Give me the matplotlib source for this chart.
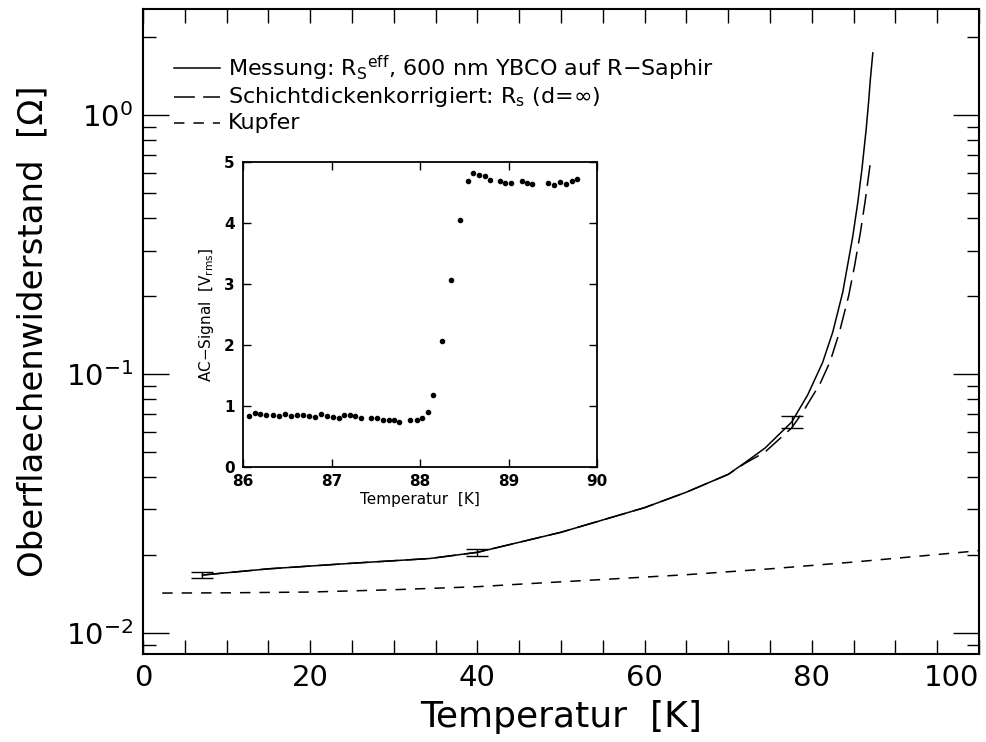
import numpy as np
import matplotlib.pyplot as plt
from matplotlib.lines import Line2D
from matplotlib.ticker import MultipleLocator, LogLocator, NullFormatter

# ── Fonts ─────────────────────────────────────────────────────────────────────
plt.rcParams["font.family"] = ["DejaVu Sans"]
plt.rcParams["mathtext.fontset"] = "dejavusans"
plt.rcParams["lines.scale_dashes"] = False

# ── Main data ────────────────────────────────────────────────────────────────
t_mess = [7.1, 15, 25, 34.3, 40, 50, 60, 65, 70, 72, 74.4, 77.6, 79.5, 81.3, 82.5, 83.7,
          84.9, 85.5, 86.0, 86.5, 86.8, 87.0, 87.3]
r_mess = [0.01675, 0.0177, 0.0186, 0.0194, 0.0205, 0.0245, 0.0305, 0.035, 0.041, 0.0455,
          0.0518, 0.0653, 0.083, 0.111, 0.145, 0.207, 0.34, 0.46, 0.62, 0.88, 1.13, 1.37, 1.74]

t_korr = [7.1, 15, 25, 34.3, 40, 50, 60, 65, 70, 72, 74.4, 77.6, 79.0, 81.0, 82.2, 83.3,
          84.4, 85.1, 85.8, 86.4, 87.0]
r_korr = [0.01675, 0.0177, 0.0186, 0.0194, 0.0205, 0.0245, 0.0305, 0.035, 0.041, 0.0452,
          0.050, 0.062, 0.072, 0.092, 0.112, 0.145, 0.20, 0.26, 0.35, 0.47, 0.653]

t_cu = [2.3, 10, 20, 30, 40, 45.9, 55, 65, 75, 85, 95, 100]
r_cu = [0.01427, 0.0143, 0.0144, 0.0147, 0.0151, 0.0155, 0.0161, 0.0168, 0.0177, 0.0188, 0.0201, 0.0208]

t_err = [7.1, 40, 77.6]
r_err = [0.01675, 0.0205, 0.0653]
e_err = [0.0005, 0.0006, 0.0035]

x_ticks = [0, 20, 40, 60, 80, 100]
legend_labels = [r"Messung: R$_\mathregular{S}$$^\mathregular{eff}$, 600 nm YBCO auf R$-$Saphir",
                 r"Schichtdickenkorrigiert: R$_\mathregular{s}$ (d=$\infty$)",
                 "Kupfer"]

# ── Inset data: AC signal across the transition ──────────────────────────────
t_ac = [86.064, 86.132, 86.196, 86.263, 86.335, 86.403, 86.470, 86.542, 86.610, 86.677,
        86.741, 86.817, 86.881, 86.948, 87.016, 87.080, 87.144, 87.204, 87.268, 87.332,
        87.449, 87.513, 87.577, 87.645, 87.701, 87.765, 87.889, 87.965, 88.021, 88.085,
        88.145, 88.254, 88.352, 88.454, 88.548, 88.604, 88.672, 88.729, 88.793, 88.906,
        88.962, 89.030, 89.150, 89.214, 89.271, 89.451, 89.519, 89.583, 89.651, 89.718,
        89.775]
v_ac = [0.838, 0.887, 0.876, 0.860, 0.849, 0.838, 0.865, 0.838, 0.849, 0.849,
        0.838, 0.821, 0.876, 0.838, 0.821, 0.805, 0.849, 0.849, 0.838, 0.811,
        0.811, 0.805, 0.778, 0.778, 0.767, 0.739, 0.767, 0.767, 0.811, 0.904,
        1.188, 2.070, 3.067, 4.053, 4.682, 4.819, 4.781, 4.765, 4.699, 4.682,
        4.655, 4.655, 4.693, 4.655, 4.639, 4.655, 4.628, 4.671, 4.644, 4.693,
        4.726]

W, H = 986, 742
LONG_DASH = (15, 6)
SHORT_DASH = (7.5, 6.5)

fig = plt.figure(figsize=(W / 100, H / 100), dpi=100)

def px_axes(x0, y0, x1, y1):
    return [x0 / W, 1 - y1 / H, (x1 - x0) / W, (y1 - y0) / H]

ax = fig.add_axes(px_axes(143, 9, 979, 654))
ax.set_yscale("log")
ax.set_xlim(0, 100)
ax.set_ylim(0.0083, 2.57)

ax.plot(t_mess, r_mess, color="black", lw=1.1)
ax.plot(t_korr, r_korr, color="black", lw=1.1, dashes=LONG_DASH)
ax.plot(t_cu, r_cu, color="black", lw=1.1, dashes=SHORT_DASH)
ax.errorbar(t_err, r_err, yerr=e_err, fmt="none", ecolor="black", elinewidth=1.0,
            capsize=8, capthick=1.0)

ax.set_xticks(x_ticks, [str(v) for v in x_ticks])
ax.xaxis.set_minor_locator(MultipleLocator(5))
ax.yaxis.set_major_locator(LogLocator(base=10))
ax.yaxis.set_minor_locator(LogLocator(base=10, subs=np.arange(2, 10)))
ax.yaxis.set_minor_formatter(NullFormatter())
ax.tick_params(which="both", direction="in", top=True, right=True, width=1.0)
ax.tick_params(which="major", axis="y", length=19)
ax.tick_params(which="minor", axis="y", length=9)
ax.tick_params(which="both", axis="x", length=10)
ax.tick_params(labelsize=21, pad=7)
for s in ax.spines.values():
    s.set_linewidth(1.5)
# last label sits flush with the right edge, as in the original
ax.xaxis.get_major_ticks()[-1].label1.set_horizontalalignment("right")

ax.set_xlabel("Temperatur  [K]", fontsize=26, labelpad=6)
ax.set_ylabel("Oberflaechenwiderstand  [Ω]", fontsize=24.5, labelpad=12)

# ── Legend, drawn by hand like the original ───────────────────────────────────
styles = [dict(), dict(dashes=LONG_DASH), dict(dashes=SHORT_DASH)]
rows_px = [68, 97, 123]
for lab, st, ypx in zip(legend_labels, styles, rows_px):
    y = 1 - ypx / H
    fig.add_artist(Line2D([174 / W, 220 / W], [y, y], color="black", lw=1.1,
                          transform=fig.transFigure, **st))
    fig.text(228 / W, y, lab, fontsize=16, ha="left", va="center")

# ── Inset ─────────────────────────────────────────────────────────────────────
ins = fig.add_axes(px_axes(243, 162, 597, 467))
ins.plot(t_ac, v_ac, "o", color="black", ms=3)
ins.set_xlim(86, 90)
ins.set_ylim(0, 5)
ins.xaxis.set_major_locator(MultipleLocator(1))
ins.yaxis.set_major_locator(MultipleLocator(1))
ins.tick_params(direction="in", top=True, right=True, length=6, width=1.0,
                labelsize=11)
ins.tick_params(axis="x", pad=5)
ins.tick_params(axis="y", pad=6)
for lab in ins.get_xticklabels() + ins.get_yticklabels():
    lab.set_fontweight("bold")
for s in ins.spines.values():
    s.set_linewidth(1.3)
ins.set_xlabel("Temperatur  [K]", fontsize=11, labelpad=2)
ins.set_ylabel(r"AC$-$Signal  [V$_\mathregular{rms}$]", fontsize=11, labelpad=6)

fig.savefig("out.png", dpi=100)
